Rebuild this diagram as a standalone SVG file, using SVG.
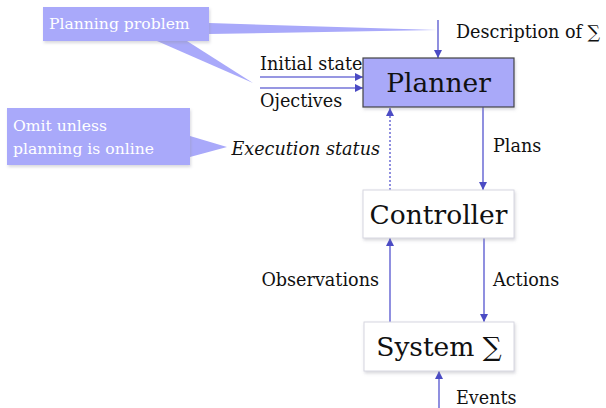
<svg xmlns="http://www.w3.org/2000/svg" width="606" height="408" viewBox="0 0 606 408">
<style>
text{font-family:"DejaVu Serif","Liberation Serif",serif;fill:#111}
.lbl{font-size:17.6px}
.big{font-size:26.5px}
.call{fill:#A9A9FA}
.ct{fill:#fff;font-size:15.6px}
.ln{stroke:#7474D8;stroke-width:1.6;fill:none}
.box{fill:#fff;stroke:#d6d6e0;stroke-width:1}
</style>
<defs>
<marker id="ah" viewBox="0 0 10 10" refX="10" refY="5" markerWidth="8" markerHeight="8" markerUnits="userSpaceOnUse" orient="auto">
<path d="M0,0 L10,5 L0,10 z" fill="#4B4BC4"/>
</marker>
<filter id="sh" x="-10%" y="-10%" width="130%" height="140%">
<feDropShadow dx="1" dy="2" stdDeviation="1.5" flood-color="#9090a0" flood-opacity="0.35"/>
</filter>
</defs>
<g id="callout-planning">
<path class="call" d="M209,23 L437,30 L209,34 z"/>
<path class="call" d="M157,41 L253,83 L187,41 z"/>
<rect class="call" x="43" y="7" width="166" height="34" filter="url(#sh)"/>
<text class="ct" x="49" y="29">Planning problem</text>
</g>
<g id="callout-omit">
<path class="call" d="M190,136 L227,147 L190,157 z"/>
<rect class="call" x="7" y="108" width="183" height="57" filter="url(#sh)"/>
<text class="ct" x="13" y="131">Omit unless</text>
<text class="ct" x="13" y="154">planning is online</text>
</g>
<g id="connectors">
<line class="ln" x1="438" y1="20" x2="438" y2="58" marker-end="url(#ah)"/>
<line class="ln" x1="260" y1="77" x2="363" y2="77" marker-end="url(#ah)"/>
<line class="ln" x1="260" y1="88" x2="363" y2="88" marker-end="url(#ah)"/>
<line class="ln" x1="390" y1="190" x2="390" y2="108" stroke-dasharray="2,2" stroke-width="1.2" marker-end="url(#ah)"/>
<line class="ln" x1="483" y1="107" x2="483" y2="190" marker-end="url(#ah)"/>
<line class="ln" x1="390" y1="322" x2="390" y2="238" marker-end="url(#ah)"/>
<line class="ln" x1="484" y1="238" x2="484" y2="322" marker-end="url(#ah)"/>
<line class="ln" x1="439" y1="408" x2="439" y2="371" marker-end="url(#ah)"/>
</g>
<g id="labels">
<text class="lbl" x="456" y="38">Description of ∑</text>
<text class="lbl" x="260" y="70">Initial state</text>
<text class="lbl" x="260" y="107">Ojectives</text>
<text class="lbl" x="380" y="155" text-anchor="end" font-style="italic">Execution status</text>
<text class="lbl" x="493" y="152">Plans</text>
<text class="lbl" x="379" y="286" text-anchor="end">Observations</text>
<text class="lbl" x="493" y="286">Actions</text>
<text class="lbl" x="456" y="404">Events</text>
</g>
<g id="planner">
<rect x="363" y="58" width="151" height="49" fill="#A9A9F9" stroke="#444" stroke-width="1.2" filter="url(#sh)"/>
<text class="big" x="438.5" y="92" text-anchor="middle">Planner</text>
</g>
<g id="controller">
<rect class="box" x="363" y="190" width="151" height="48" filter="url(#sh)"/>
<text class="big" x="438.5" y="224" text-anchor="middle">Controller</text>
</g>
<g id="system">
<rect class="box" x="364" y="322" width="150" height="49" filter="url(#sh)"/>
<text class="big" x="439" y="356" text-anchor="middle">System ∑</text>
</g>
</svg>
